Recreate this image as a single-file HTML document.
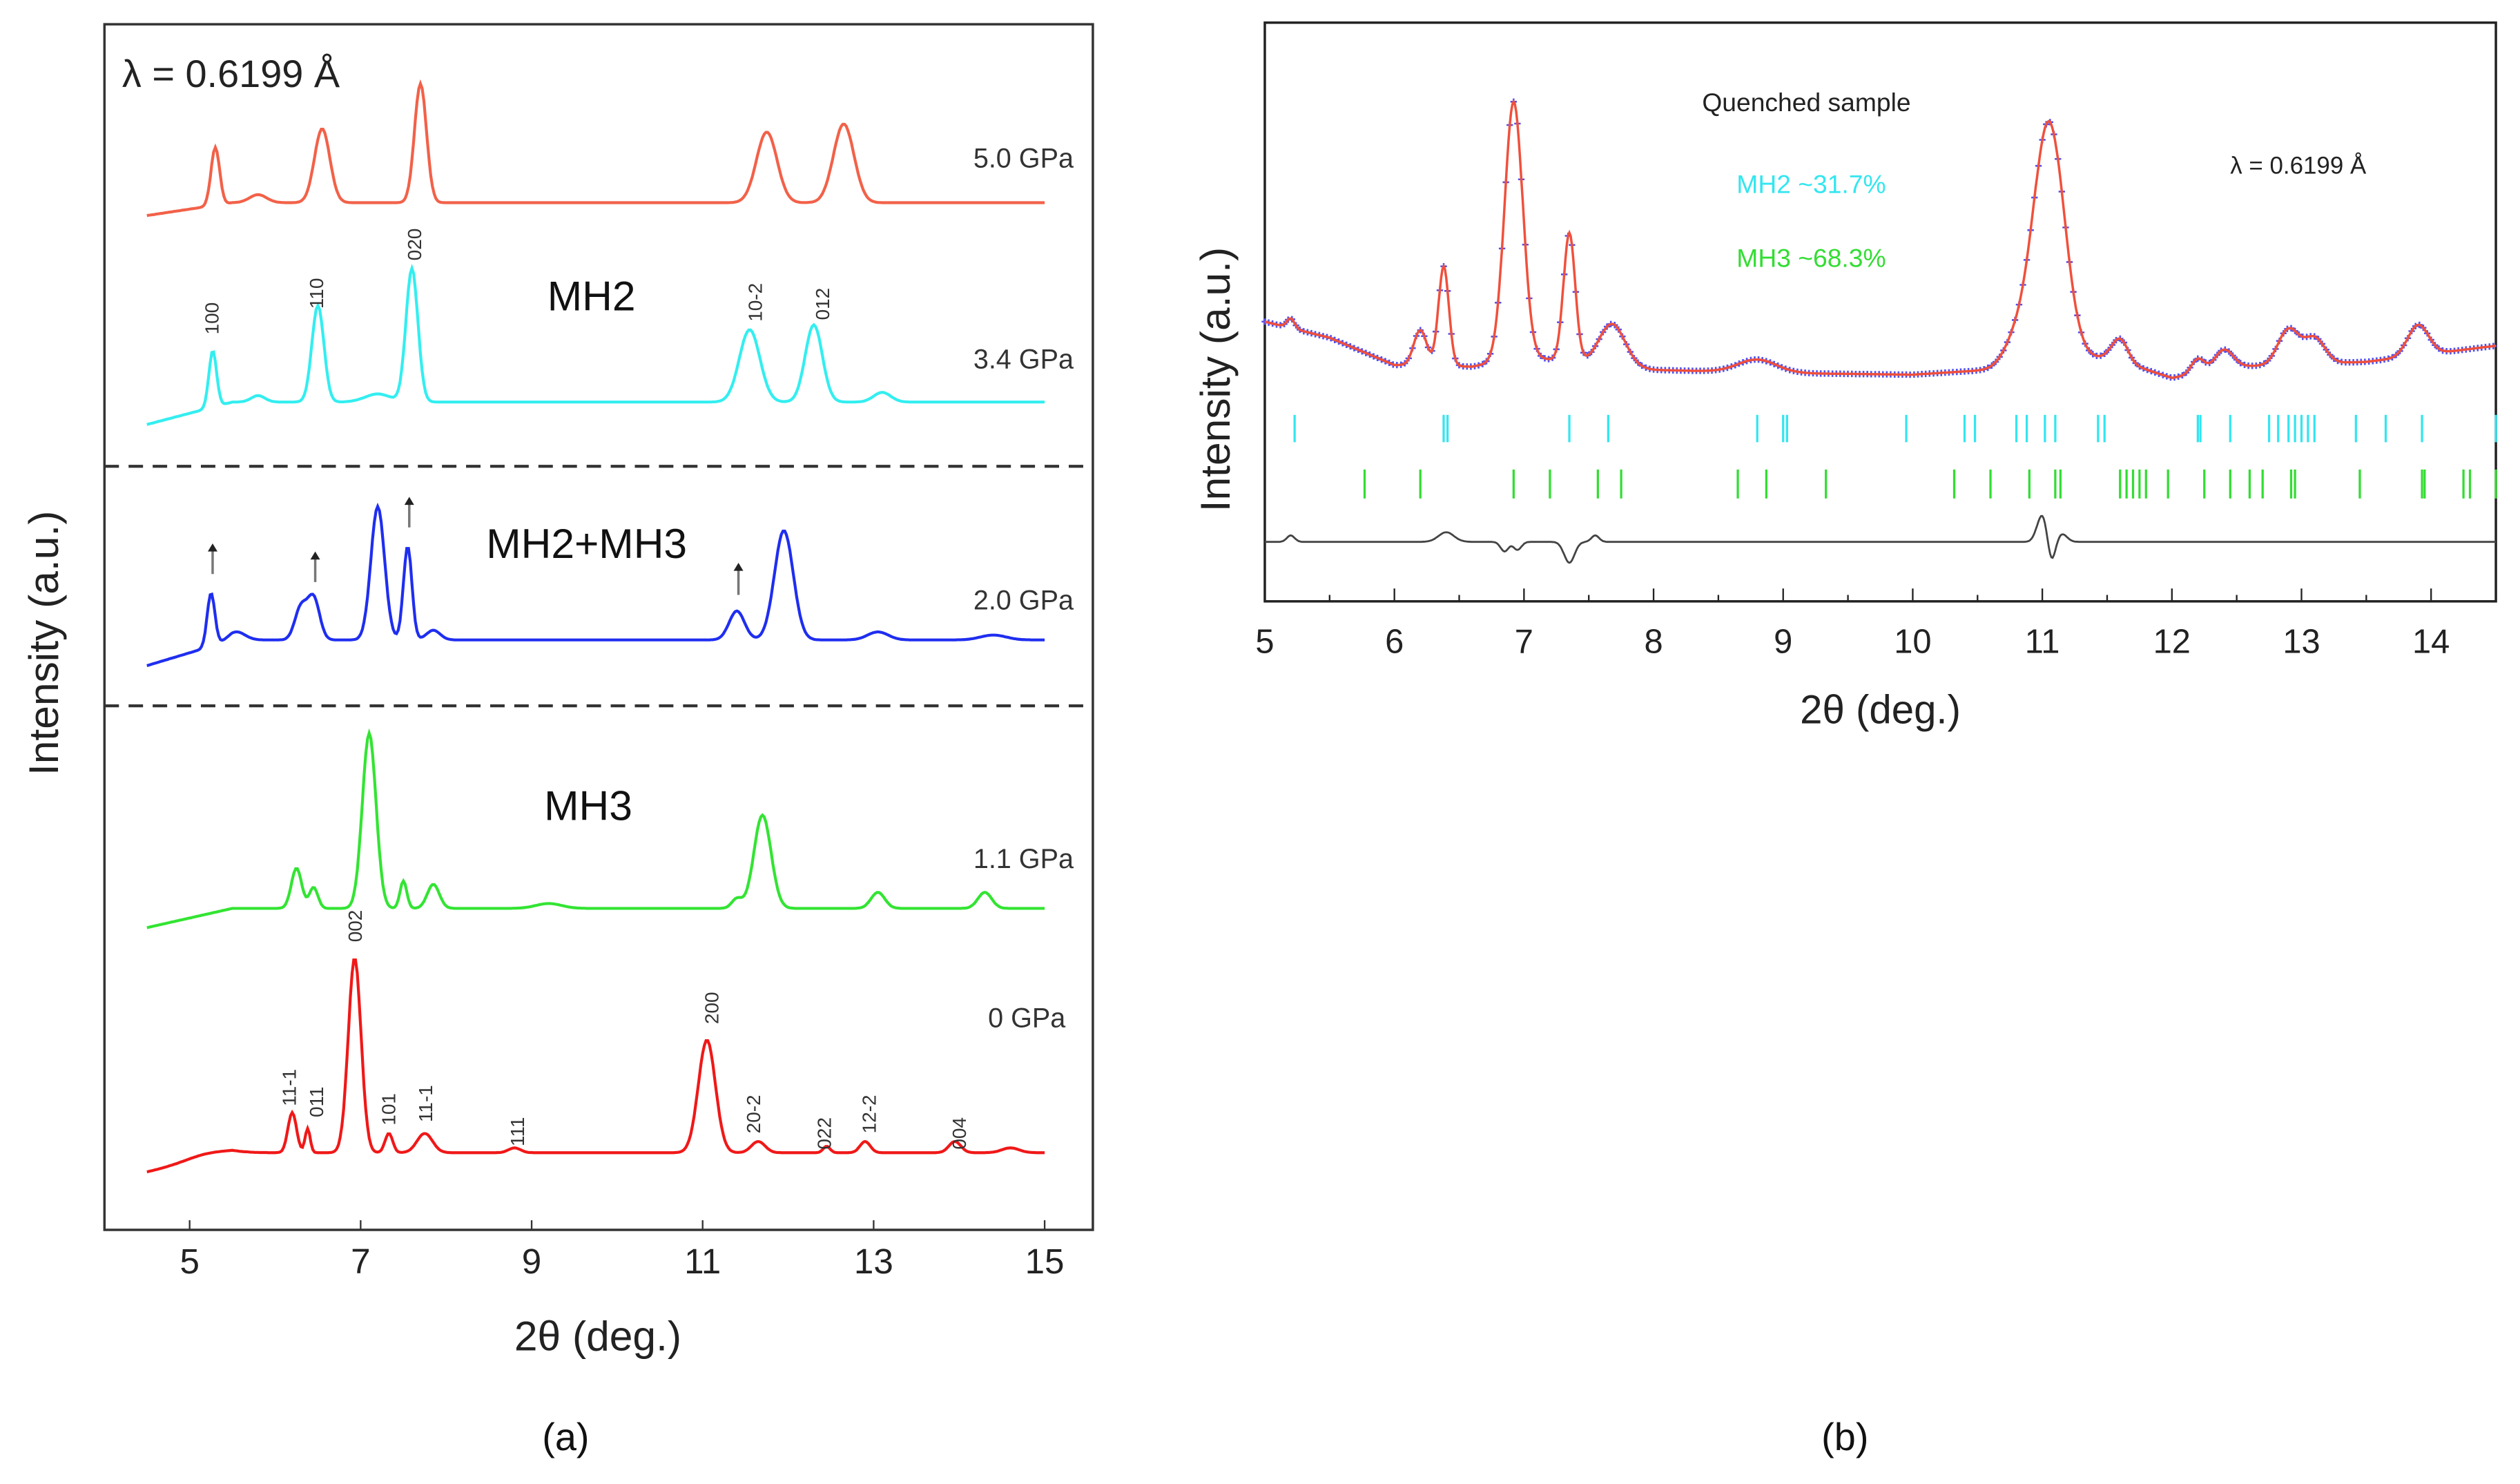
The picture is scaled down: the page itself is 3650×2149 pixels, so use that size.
<!DOCTYPE html>
<html><head><meta charset="utf-8"><style>
html,body{margin:0;padding:0;background:#fff}
svg{display:block}
text{font-family:"Liberation Sans",sans-serif}
</style></head><body>
<svg id="fig" width="3650" height="2149" viewBox="0 0 1568 923" xmlns="http://www.w3.org/2000/svg">
<rect width="1568" height="923" fill="#fff"/>
<g id="pa"></g>
<g id="pb"></g>
</svg>
<script>
// ---------- Panel (a) data ----------
const aTicks=[5,7,9,11,13,15];
const aTraceNames=["5.0 GPa","3.4 GPa","2.0 GPa","1.1 GPa","0 GPa"];
const aColors=["#f26149","#33eef0","#1f2ef0","#33e433","#f01818"];
const aBase=[126,250,398,565,717];
const aStart=[8,14,16,12,12];
const aPkPos=[[5.3,5.8,6.55,7.7,11.75,12.65],
 [5.27,5.8,6.5,7.2,7.6,11.55,12.3,13.1],
 [5.25,5.55,6.3,6.45,7.2,7.55,7.85,11.4,11.95,13.05,14.4],
 [6.25,6.45,7.1,7.5,7.85,9.2,11.4,11.7,13.05,14.3],
 [5.2,6.2,6.38,6.93,7.33,7.75,8.8,11.05,11.65,12.45,12.9,13.95,14.6]];
const aPkH=[[36,5,46,74,44,49],
 [35,4,60,5,83,45,48,6],
 [33,5,20,26,83,58,6,18,68,5,3],
 [25,13,109,17,15,3,6,58,10,10],
 [3,25,15,121,12,12,3,70,7,4,7,7,3]];
const aPkW=[[0.05,0.1,0.09,0.07,0.12,0.12],
 [0.045,0.08,0.07,0.15,0.07,0.12,0.1,0.1],
 [0.045,0.1,0.07,0.07,0.08,0.05,0.08,0.09,0.11,0.12,0.15],
 [0.06,0.05,0.08,0.04,0.07,0.15,0.06,0.1,0.08,0.08],
 [0.25,0.05,0.03,0.075,0.045,0.09,0.07,0.1,0.08,0.04,0.06,0.07,0.1]];
const aHkl=[["100",132,208,1],["110",197,192,1],["020",258,162,1],["10-2",470,200,1],["012",512,199,1],
 ["11-1",180,688,4],["011",197,695,4],["002",221,586,4],["101",242,700,4],["11-1",265,698,4],["111",322,713,4],
 ["200",443,637,4],["20-2",469,705,4],["022",513,715,4],["12-2",541,705,4],["004",597,715,4]];
const aArrows=[5.25,6.45,7.55,11.4];
const aArrowY=[[357,338],[362,343],[328,309],[370,350]];

// ---------- Panel (b) data ----------
const bTicks=[5,6,7,8,9,10,11,12,13,14];
const bPkPos=[5.2,6.2,6.38,6.92,7.35,7.68,8.8,10.8,11.05,11.6,12.2,12.4,12.9,13.1,13.9];
const bPkH=[6,22,62,160,80,26,8,15,150,14,9,12,22,16,19];
const bPkW=[0.03,0.05,0.04,0.07,0.045,0.1,0.15,0.1,0.12,0.06,0.05,0.07,0.08,0.08,0.08];
const bBgX=[5,5.5,6,6.6,7,8,9,10,10.6,11.5,12,12.5,13.5,14,14.5];
const bBgY=[30,20,3,2,8,0,-2,-3,0,8,-5,2,5,10,15];
const bMH2=[5.23,6.38,6.41,7.35,7.65,8.8,9.0,9.03,9.95,10.4,10.48,10.8,10.88,11.02,11.1,11.43,11.48,12.2,12.22,12.45,12.75,12.82,12.9,12.95,13.0,13.05,13.1,13.42,13.65,13.93,14.5];
const bMH3=[5.77,6.2,6.92,7.2,7.57,7.75,8.65,8.87,9.33,10.32,10.6,10.9,11.1,11.14,11.6,11.65,11.7,11.75,11.8,11.97,12.25,12.45,12.6,12.7,12.92,12.95,13.45,13.93,13.95,14.25,14.3,14.5];
const bDiffPos=[5.2,6.4,6.85,6.95,7.35,7.55,11.0,11.07,11.15];
const bDiffAmp=[4,6,-6,-5,-13,4,17,-14,5];
const bDiffW=[0.03,0.06,0.03,0.03,0.04,0.03,0.04,0.03,0.04];

const NS="http://www.w3.org/2000/svg";
function mk(parent,tag,attrs,txt){const e=document.createElementNS(NS,tag);for(const k in attrs)e.setAttribute(k,attrs[k]);if(txt!==undefined)e.textContent=txt;parent.appendChild(e);return e;}
function peaks(x,P,H,W){let s=0;for(let i=0;i<P.length;i++){const d=(x-P[i])/W[i];s+=H[i]*Math.exp(-0.5*d*d);}return s;}

// ===== Panel a =====
const pa=document.getElementById('pa');
const aX=v=>118+(v-5)*53.2;
let r=mk(pa,'rect',{x:65,y:15,width:615,height:750,fill:'none',stroke:'#333','stroke-width':1.5});

aTicks.forEach(t=>{
 let l=mk(pa,'line',{x1:aX(t),x2:aX(t),y1:765,y2:759,stroke:'#333','stroke-width':1});
 
 let tx=mk(pa,'text',{x:aX(t),y:792,'text-anchor':'middle','font-size':22,fill:'#222'},String(t));
 
});
let at=mk(pa,'text',{x:372,y:840,'text-anchor':'middle','font-size':26,fill:'#222'},'2θ (deg.)');

let ay=mk(pa,'text',{x:0,y:0,transform:'translate(36,400) rotate(-90)','text-anchor':'middle','font-size':26,fill:'#222'},'Intensity (a.u.)');

[290,439].forEach(y=>{let l=mk(pa,'line',{x1:65,x2:680,y1:y,y2:y,stroke:'#333','stroke-width':1.8,'stroke-dasharray':'9,6'});
 });
for(let i=0;i<5;i++){
 let d='';for(let v=4.5;v<=15.001;v+=0.02){const e=(v<5.5?aStart[i]*(5.5-v):0);const y=aBase[i]+e-peaks(v,aPkPos[i],aPkH[i],aPkW[i]);d+=(d?'L':'M')+aX(v).toFixed(1)+','+y.toFixed(1);}
 let p=mk(pa,'path',{d:d,fill:'none',stroke:aColors[i],'stroke-width':1.8});
 
}
const aLabY=[104,229,379,540,639];
aTraceNames.forEach((n,i)=>{let t=mk(pa,'text',{x:i==4?663:668,y:aLabY[i],'text-anchor':'end','font-size':17,fill:'#333'},n);
 });
[['MH2',368,193],['MH2+MH3',365,347],['MH3',366,510]].forEach(a=>{let t=mk(pa,'text',{x:a[1],y:a[2],'text-anchor':'middle','font-size':26,fill:'#111'},a[0]);
 });
let lam=mk(pa,'text',{x:76,y:54,'font-size':24,fill:'#222'},'λ = 0.6199 Å');

aHkl.forEach(h=>{let t=mk(pa,'text',{x:0,y:0,transform:`translate(${h[1]+4},${h[2]}) rotate(-90)`,'font-size':12,fill:'#333'},h[0]);
 });
aArrows.forEach((v,i)=>{const x=aX(v)+1;const [y1,y2]=aArrowY[i];
 let l=mk(pa,'line',{x1:x,x2:x,y1:y1,y2:y2+4,stroke:'#777','stroke-width':1.5});
 
 let h=mk(pa,'path',{d:`M${x-3},${y2+5}L${x},${y2}L${x+3},${y2+5}Z`,fill:'#222'});
 });
let la=mk(pa,'text',{x:352,y:902,'text-anchor':'middle','font-size':24,'font-family':'Liberation Serif',fill:'#111'},'(a)');


// ===== Panel b =====
const pb=document.getElementById('pb');
const bX=v=>787+(v-5)*80.63;
const bBase=230;
function bgAt(v){for(let i=0;i<bBgX.length-1;i++){if(v<=bBgX[i+1]){const t=(v-bBgX[i])/(bBgX[i+1]-bBgX[i]);return bBgY[i]+t*(bBgY[i+1]-bBgY[i]);}}return bBgY[bBgY.length-1];}
const bY=v=>bBase-bgAt(v)-peaks(v,bPkPos,bPkH,bPkW);
let rb=mk(pb,'rect',{x:787,y:14,width:766,height:360,fill:'none',stroke:'#222','stroke-width':1.5});

for(let v=5;v<=14.5;v+=0.5){const maj=Math.abs(v-Math.round(v))<0.01;
 let l=mk(pb,'line',{x1:bX(v),x2:bX(v),y1:374,y2:maj?366:370,stroke:'#222','stroke-width':1});
 }
bTicks.forEach(t=>{let tx=mk(pb,'text',{x:bX(t),y:406,'text-anchor':'middle','font-size':21,fill:'#222'},String(t));
 });
let bt=mk(pb,'text',{x:1170,y:450,'text-anchor':'middle','font-size':25,fill:'#222'},'2θ (deg.)');

let by=mk(pb,'text',{x:0,y:0,transform:'translate(765,236) rotate(-90)','text-anchor':'middle','font-size':26,fill:'#222'},'Intensity (a.u.)');

let obs='';for(let v=5;v<=14.5;v+=0.03){const x=bX(v),y=bY(v);obs+=`M${(x-2).toFixed(1)},${y.toFixed(1)}h4M${x.toFixed(1)},${(y-2).toFixed(1)}v4`;}
let po=mk(pb,'path',{d:obs,stroke:'#5050f0','stroke-width':1.1,fill:'none'});

let calc='';for(let v=5;v<=14.5;v+=0.01){calc+=(calc?'L':'M')+bX(v).toFixed(1)+','+bY(v).toFixed(1);}
let pc=mk(pb,'path',{d:calc,stroke:'#f0503c','stroke-width':1.5,fill:'none'});

bMH2.forEach(v=>{let l=mk(pb,'line',{x1:bX(v),x2:bX(v),y1:258,y2:275,stroke:'#33e6f0','stroke-width':1.4});
 });
bMH3.forEach(v=>{let l=mk(pb,'line',{x1:bX(v),x2:bX(v),y1:292,y2:310,stroke:'#33dd33','stroke-width':1.4});
 });
let dd='';for(let v=5;v<=14.5;v+=0.01){dd+=(dd?'L':'M')+bX(v).toFixed(1)+','+(337-peaks(v,bDiffPos,bDiffAmp,bDiffW)).toFixed(1);}
let pd=mk(pb,'path',{d:dd,stroke:'#444','stroke-width':1.2,fill:'none'});

let q=mk(pb,'text',{x:1124,y:69,'text-anchor':'middle','font-size':16,fill:'#222'},'Quenched sample');

let m2=mk(pb,'text',{x:1127,y:120,'text-anchor':'middle','font-size':16,fill:'#33e6f0'},'MH2 ~31.7%');

let m3=mk(pb,'text',{x:1127,y:166,'text-anchor':'middle','font-size':16,fill:'#33dd33'},'MH3 ~68.3%');

let lb=mk(pb,'text',{x:1430,y:108,'text-anchor':'middle','font-size':15,fill:'#222'},'λ = 0.6199 Å');

let lbb=mk(pb,'text',{x:1148,y:902,'text-anchor':'middle','font-size':24,'font-family':'Liberation Serif',fill:'#111'},'(b)');

</script>
</body></html>
